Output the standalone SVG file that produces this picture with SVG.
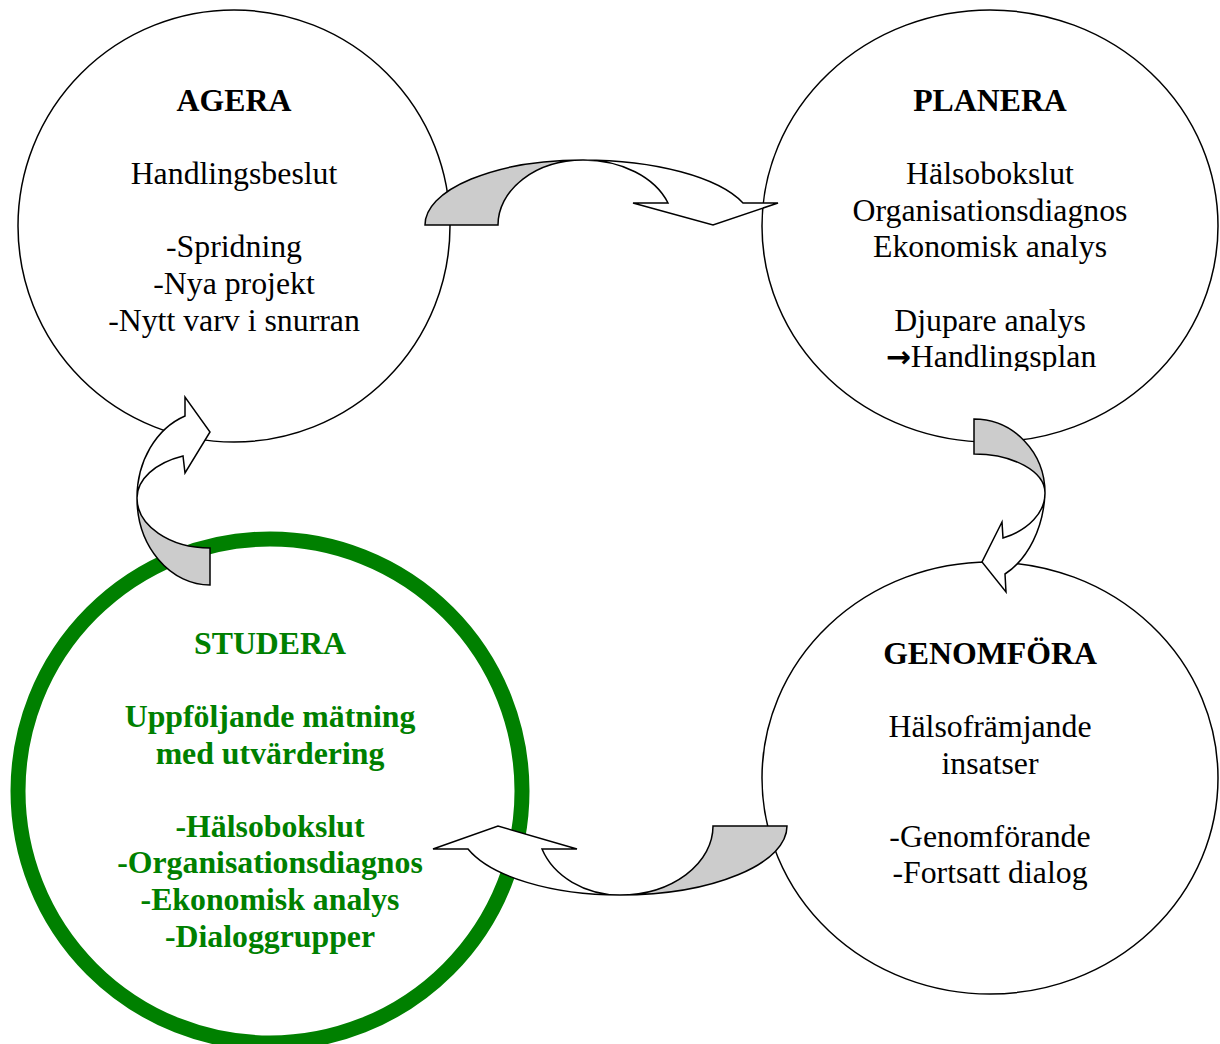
<svg xmlns="http://www.w3.org/2000/svg" width="1220" height="1044" viewBox="0 0 1220 1044">
  <style>
    .ring { fill: #ffffff; stroke: #000000; stroke-width: 1.5; }
    .t { font-family: "Liberation Serif", "Times New Roman", serif; font-size: 31.8px; text-anchor: middle; fill: #000000; }
    .b { font-weight: bold; }
    .g { fill: #008000; font-weight: bold; }
    .arw { font-family: "DejaVu Sans", sans-serif; font-size: 30px; font-weight: bold; }
    .back { fill: #cccccc; stroke: #000000; stroke-width: 1.5; stroke-linejoin: miter; }
    .front { fill: #ffffff; stroke: #000000; stroke-width: 1.5; stroke-linejoin: miter; }
  </style>
  <defs>
    <clipPath id="planClip">
      <rect x="740" y="0" width="480" height="371"/>
    </clipPath>
  </defs>
  <rect x="0" y="0" width="1220" height="1044" fill="#ffffff"/>

  <g id="agera">
    <circle class="ring" cx="234" cy="226" r="216"/>
    <text class="t b" x="234" y="111">AGERA</text>
    <text class="t" x="234" y="184.2">Handlingsbeslut</text>
    <text class="t" x="234" y="257.4">-Spridning</text>
    <text class="t" x="234" y="294">-Nya projekt</text>
    <text class="t" x="234" y="330.6">-Nytt varv i snurran</text>
  </g>

  <g id="planera">
    <ellipse class="ring" cx="990" cy="226" rx="228" ry="216"/>
    <g clip-path="url(#planClip)">
      <text class="t b" x="990" y="111">PLANERA</text>
      <text class="t" x="990" y="184.2">Hälsobokslut</text>
      <text class="t" x="990" y="220.8">Organisationsdiagnos</text>
      <text class="t" x="990" y="257.4">Ekonomisk analys</text>
      <text class="t" x="990" y="330.6">Djupare analys</text>
      <text class="t" x="991" y="367.2"><tspan class="arw">→</tspan>Handlingsplan</text>
    </g>
  </g>

  <g id="genomfora">
    <ellipse class="ring" cx="990" cy="778" rx="228" ry="216"/>
    <text class="t b" x="990" y="664">GENOMFÖRA</text>
    <text class="t" x="990" y="737">Hälsofrämjande</text>
    <text class="t" x="990" y="773.6">insatser</text>
    <text class="t" x="990" y="846.8">-Genomförande</text>
    <text class="t" x="990" y="883.4">-Fortsatt dialog</text>
  </g>

  <g id="studera">
    <circle cx="270" cy="791" r="252" fill="#ffffff" stroke="#008000" stroke-width="15"/>
    <text class="t g" x="270" y="654">STUDERA</text>
    <text class="t g" x="270" y="727">Uppföljande mätning</text>
    <text class="t g" x="270" y="763.6">med utvärdering</text>
    <text class="t g" x="270" y="836.8">-Hälsobokslut</text>
    <text class="t g" x="270" y="873.4">-Organisationsdiagnos</text>
    <text class="t g" x="270" y="910">-Ekonomisk analys</text>
    <text class="t g" x="270" y="946.6">-Dialoggrupper</text>
  </g>

  <g id="connectors">
    <g id="arrow-agera-planera">
      <path class="back" d="M425,225 A158,65 0 0 1 583,160 A85,65 0 0 0 498,225 Z"/>
      <path class="front" d="M583,160 A170,65 0 0 1 743,203 L778,203 L713,225 L633,203 L668,203 A90,65 0 0 0 583,160 Z"/>
    </g>
    <g id="arrow-planera-genomfora">
      <path class="back" d="M974,419 A71,74 0 0 1 1045,493 A71,39 0 0 0 974,454 Z"/>
      <path class="front" d="M1045,493 A71,96 0 0 1 1005,574 L1006,592 L982,562 L1002,522 L1003,538 A71,49 0 0 0 1045,493 Z"/>
    </g>
    <g id="arrow-genomfora-studera">
      <path class="back" d="M787,826 A167,69 0 0 1 620,895 A93,69 0 0 0 713,826 Z"/>
      <path class="front" d="M620,895 A161,69 0 0 1 468,849 L433,849 L498,826 L577,849 L542,849 A83,69 0 0 0 620,895 Z"/>
    </g>
    <g id="arrow-studera-agera">
      <path class="back" d="M210,585 A73,87 0 0 1 137,498 A73,50 0 0 0 210,548 Z"/>
      <path class="front" d="M137,498 A73,87 0 0 1 185,416 L185,397 L210,432 L185,473 L183,456 A73,45 0 0 0 137,498 Z"/>
    </g>
  </g>
</svg>
